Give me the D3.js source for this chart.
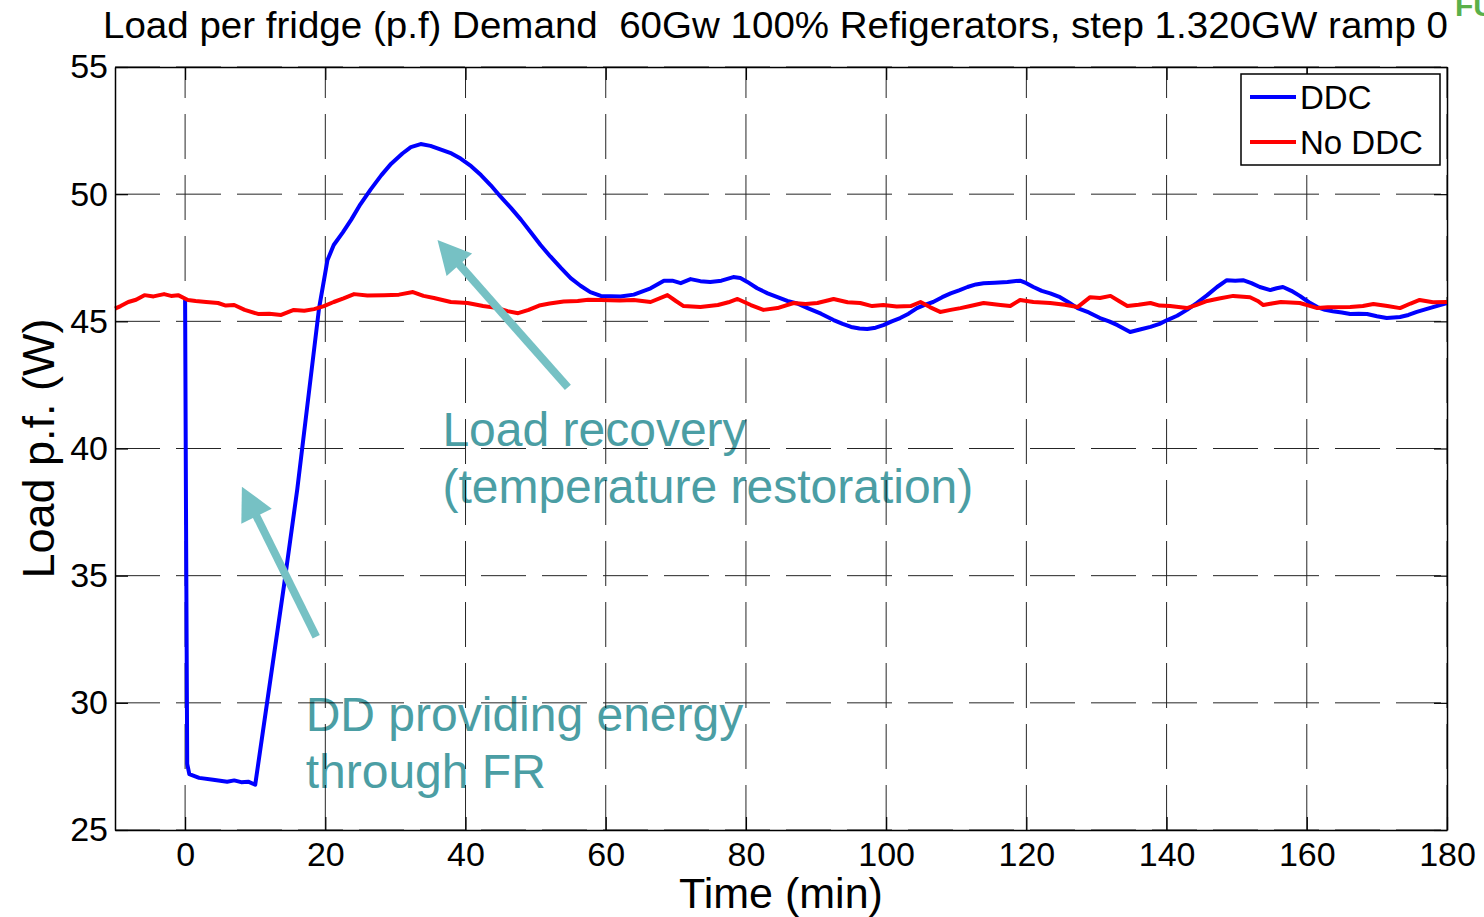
<!DOCTYPE html>
<html>
<head>
<meta charset="utf-8">
<script src="https://cdn.jsdelivr.net/npm/d3@7"></script>
<style>
  body { margin: 0; background: #fff; }
  svg { display: block; }
  text { font-family: "Liberation Sans", Arial, sans-serif; }
</style>
</head>
<body>
<div id="chart"></div>
<script>
// DDC series (time in min, load per fridge in W)
var ddcTime = [0, 0.15, 0.3, 0.6, 2, 4, 6, 7, 8, 9, 10, 14.1, 16, 19.1, 20.3, 21.2, 22.5, 23.7, 25, 26.5, 28, 29.4, 31, 32.2, 33.6, 35, 36.5, 38, 39.3, 40.8, 42.2, 43.6, 45, 46.5, 47.9, 49.3, 50.7, 52.1, 53.6, 55, 56.4, 57.8, 59.3, 62.1, 64, 66.4, 68.3, 69.5, 70.7, 72.1, 73.5, 74.9, 76.5, 78.2, 79.2, 80.2, 81.6, 83.1, 84.5, 85.9, 87.3, 88.8, 90.7, 92.5, 93.8, 95, 96.2, 97.3, 98.5, 99.6, 100.8, 102, 103.2, 104.4, 105.5, 106.7, 108, 109.2, 110.4, 111.6, 112.8, 113.9, 115.5, 117.3, 119.1, 120, 121, 122.2, 123.4, 124.8, 126, 127.3, 128.9, 130.5, 131.8, 133, 134.8, 136.2, 137.7, 139, 140.1, 141.5, 142.9, 144.3, 145.8, 147.2, 148.6, 149.8, 150.9, 152.1, 153.3, 154.8, 155.7, 156.6, 157.8, 159, 160.3, 161.5, 162.6, 163.7, 165, 166.2, 167.4, 168.6, 170, 171.4, 172.4, 173.3, 174.5, 175.7, 176.9, 178, 180];
var ddcLoad = [45.85, 36.2, 27.6, 27.2, 27.05, 26.98, 26.9, 26.95, 26.88, 26.9, 26.78, 34.6, 38.4, 45.5, 47.4, 48.0, 48.5, 49.0, 49.6, 50.2, 50.75, 51.2, 51.6, 51.85, 51.97, 51.9, 51.75, 51.6, 51.4, 51.1, 50.75, 50.35, 49.9, 49.45, 49.0, 48.5, 48.0, 47.55, 47.1, 46.7, 46.4, 46.15, 46.0, 45.98, 46.05, 46.3, 46.6, 46.6, 46.5, 46.66, 46.58, 46.55, 46.6, 46.74, 46.7, 46.55, 46.3, 46.1, 45.95, 45.8, 45.7, 45.52, 45.3, 45.05, 44.9, 44.78, 44.72, 44.7, 44.75, 44.85, 45.0, 45.13, 45.3, 45.52, 45.65, 45.76, 45.95, 46.1, 46.22, 46.35, 46.45, 46.5, 46.52, 46.55, 46.6, 46.5, 46.35, 46.2, 46.1, 45.95, 45.75, 45.52, 45.35, 45.13, 45.0, 44.85, 44.58, 44.68, 44.78, 44.9, 45.05, 45.22, 45.45, 45.72, 46.03, 46.35, 46.62, 46.6, 46.62, 46.5, 46.35, 46.23, 46.3, 46.35, 46.2, 46.0, 45.75, 45.56, 45.45, 45.4, 45.35, 45.29, 45.3, 45.29, 45.2, 45.13, 45.15, 45.17, 45.25, 45.37, 45.47, 45.56, 45.72];

// No DDC series
var noDdcTime = [-10, -9.2, -8.1, -7, -5.8, -4.5, -3, -2, -1, 0.4, 1.5, 3, 4.7, 5.8, 7, 8.5, 10.4, 12, 13.7, 14.6, 15.5, 17, 18.4, 19.8, 21.2, 22.6, 24.1, 26, 28.4, 30.5, 32.5, 34, 35.5, 37.9, 40.3, 42.5, 44.6, 46, 47.5, 49, 50.5, 52, 54, 56, 57.5, 59.3, 62, 64, 66.4, 68.8, 70, 71.1, 73.5, 76, 77.5, 78.8, 80.7, 82.5, 84.5, 86.8, 88.5, 90.2, 92.5, 94.5, 96.3, 98, 99.6, 101.5, 103.5, 104.9, 106.3, 107.7, 109.2, 110.6, 112, 113.9, 116.3, 117.7, 119.1, 121, 123.4, 125.5, 127.3, 129.1, 130.5, 132, 133.2, 134.4, 136, 137.7, 139, 140.5, 142.9, 144.3, 145.8, 147.5, 149.5, 151.9, 153, 153.8, 155, 156.3, 159, 160.3, 161.5, 163, 166.2, 168, 169.5, 171.5, 173.3, 174.8, 176.1, 178, 180];
var noDdcLoad = [45.5, 45.6, 45.76, 45.85, 46.03, 45.98, 46.07, 46.0, 46.03, 45.84, 45.8, 45.76, 45.72, 45.62, 45.64, 45.45, 45.29, 45.3, 45.25, 45.35, 45.45, 45.42, 45.48, 45.6, 45.76, 45.9, 46.07, 46.02, 46.03, 46.05, 46.15, 46.0, 45.92, 45.76, 45.72, 45.6, 45.52, 45.4, 45.32, 45.45, 45.62, 45.7, 45.78, 45.8, 45.85, 45.84, 45.82, 45.84, 45.76, 46.03, 45.8, 45.6, 45.56, 45.64, 45.75, 45.88, 45.64, 45.45, 45.52, 45.72, 45.68, 45.72, 45.88, 45.75, 45.72, 45.6, 45.64, 45.58, 45.6, 45.76, 45.55, 45.37, 45.45, 45.52, 45.6, 45.72, 45.64, 45.6, 45.84, 45.76, 45.72, 45.65, 45.56, 45.95, 45.92, 46.0, 45.8, 45.6, 45.65, 45.72, 45.62, 45.6, 45.52, 45.65, 45.8, 45.9, 46.0, 45.95, 45.8, 45.64, 45.7, 45.76, 45.72, 45.62, 45.52, 45.55, 45.56, 45.6, 45.68, 45.6, 45.52, 45.7, 45.84, 45.75, 45.76];

var xTicks = [0, 20, 40, 60, 80, 100, 120, 140, 160, 180];
var yTicks = [25, 30, 35, 40, 45, 50, 55];
var seriesNames = ["DDC", "No DDC"];
var seriesColors = ["#0000ff", "#ff0000"];

var titleText = "Load per fridge (p.f) Demand  60Gw 100% Refigerators, step 1.320GW ramp 0";
var xLabel = "Time (min)";
var yLabel = "Load p.f. (W)";

// annotations: text lines and arrows (tail -> tip) in data units
var notes = [
    {lines: ["Load recovery", "(temperature restoration)"], t: 36.7, v: 40.1},
    {lines: ["DD providing energy", "through FR"], t: 17.2, v: 28.9}
];
var arrows = [
    {from: [54.6, 42.4], to: [36.0, 48.2]},
    {from: [18.7, 32.6], to: [8.1, 38.5]}
];

var W = 1484, H = 917;
var m = {left: 115, right: 1447, top: 67, bottom: 830};

var svg = d3.select("#chart").append("svg")
    .attr("width", W).attr("height", H);

var x = d3.scaleLinear().domain([-10, 180]).range([m.left, m.right]);
var y = d3.scaleLinear().domain([25, 55]).range([m.bottom, m.top]);

// annotation text sits under the grid
var notesG = svg.append("g");
notes.forEach(function (n) {
    n.lines.forEach(function (l, i) {
        notesG.append("text")
            .attr("x", x(n.t))
            .attr("y", y(n.v) + i * 57)
            .attr("font-size", 48)
            .attr("fill", "#4b9ea4")
            .text(l);
    });
});

// grid
var grid = svg.append("g").attr("stroke", "#000").attr("stroke-width", 1)
    .attr("stroke-dasharray", "45,16").attr("opacity", 0.85);
xTicks.forEach(function (t) {
    grid.append("line")
        .attr("x1", x(t)).attr("x2", x(t))
        .attr("y1", m.bottom).attr("y2", m.top);
});
yTicks.forEach(function (v) {
    grid.append("line")
        .attr("x1", m.left).attr("x2", m.right)
        .attr("y1", y(v)).attr("y2", y(v));
});

// series
var line = d3.line()
    .x(function (d) { return x(d[0]); })
    .y(function (d) { return y(d[1]); });

var ddc = d3.zip(ddcTime, ddcLoad);
var noDdc = d3.zip(noDdcTime, noDdcLoad);

svg.append("path").datum(ddc)
    .attr("d", line)
    .attr("fill", "none")
    .attr("stroke", seriesColors[0])
    .attr("stroke-width", 4)
    .attr("stroke-linejoin", "round");
svg.append("path").datum(noDdc)
    .attr("d", line)
    .attr("fill", "none")
    .attr("stroke", seriesColors[1])
    .attr("stroke-width", 4)
    .attr("stroke-linejoin", "round");

// arrows
var arrowColor = "#76c1c4";
arrows.forEach(function (a) {
    var x0 = x(a.from[0]), y0 = y(a.from[1]);
    var x1 = x(a.to[0]), y1 = y(a.to[1]);
    var dx = x1 - x0, dy = y1 - y0;
    var len = Math.sqrt(dx * dx + dy * dy);
    var ux = dx / len, uy = dy / len;
    var headL = 33, headW = 17;
    var bx = x1 - ux * headL, by = y1 - uy * headL;
    svg.append("line")
        .attr("x1", x0).attr("y1", y0)
        .attr("x2", bx + ux * 2).attr("y2", by + uy * 2)
        .attr("stroke", arrowColor)
        .attr("stroke-width", 8);
    svg.append("path")
        .attr("d", "M" + x1 + "," + y1 +
            "L" + (bx - uy * headW) + "," + (by + ux * headW) +
            "L" + (bx + uy * headW) + "," + (by - ux * headW) + "Z")
        .attr("fill", arrowColor);
});

// axes (ticks inside, on all four sides)
var tickLen = 13;
var axB = d3.axisBottom(x).tickValues(xTicks).tickSizeInner(-tickLen).tickSizeOuter(0).tickPadding(12);
var axT = d3.axisTop(x).tickValues(xTicks).tickSizeInner(-tickLen).tickSizeOuter(0).tickFormat("");
var axL = d3.axisLeft(y).tickValues(yTicks).tickSizeInner(-tickLen).tickSizeOuter(0).tickPadding(7);
var axR = d3.axisRight(y).tickValues(yTicks).tickSizeInner(-tickLen).tickSizeOuter(0).tickFormat("");

function styleAxis(g) {
    g.attr("font-family", null).attr("font-size", null);
    g.select(".domain").attr("stroke", "#000").attr("stroke-width", 1.5);
    g.selectAll(".tick line").attr("stroke", "#000").attr("stroke-width", 1.2);
    g.selectAll(".tick text")
        .attr("font-size", 34)
        .attr("fill", "#000");
}

svg.append("g").attr("transform", "translate(0," + m.bottom + ")").call(axB).call(styleAxis);
svg.append("g").attr("transform", "translate(0," + m.top + ")").call(axT).call(styleAxis);
svg.append("g").attr("transform", "translate(" + m.left + ",0)").call(axL).call(styleAxis);
svg.append("g").attr("transform", "translate(" + m.right + ",0)").call(axR).call(styleAxis);

// titles
svg.append("text")
    .attr("x", 103).attr("y", 38)
    .attr("font-size", 37)
    .attr("font-family", "'Liberation Sans Narrow', 'Liberation Sans', Arial, sans-serif")
    .attr("textLength", 1345)
    .attr("lengthAdjust", "spacingAndGlyphs")
    .style("white-space", "pre")
    .text(titleText);

// partly hidden green mark in the top-right corner
svg.append("text")
    .attr("x", 1455).attr("y", 16)
    .attr("font-size", 30)
    .attr("font-weight", "bold")
    .attr("fill", "#5ab04a")
    .text("FU");

svg.append("text")
    .attr("x", x(85)).attr("y", 908)
    .attr("text-anchor", "middle")
    .attr("font-size", 43)
    .text(xLabel);

svg.append("text")
    .attr("transform", "translate(54," + y(40) + ") rotate(-90)")
    .attr("text-anchor", "middle")
    .attr("font-size", 45)
    .text(yLabel);

// legend
var lg = svg.append("g").attr("transform", "translate(1241,74)");
lg.append("rect")
    .attr("width", 199).attr("height", 91)
    .attr("fill", "#fff")
    .attr("stroke", "#000").attr("stroke-width", 1.5);
seriesNames.forEach(function (name, i) {
    var yy = 23 + i * 45;
    lg.append("line")
        .attr("x1", 9).attr("x2", 55)
        .attr("y1", yy).attr("y2", yy)
        .attr("stroke", seriesColors[i]).attr("stroke-width", 4);
    lg.append("text")
        .attr("x", 59).attr("y", yy + 12)
        .attr("font-size", 33)
        .text(name);
});
</script>
</body>
</html>
